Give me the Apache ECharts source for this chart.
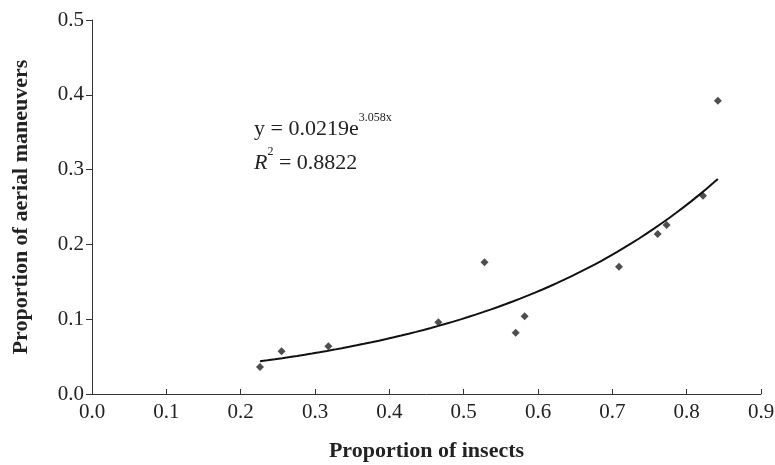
<!DOCTYPE html>
<html>
<head>
<meta charset="utf-8">
<script src="https://cdn.jsdelivr.net/npm/echarts@6/dist/echarts.min.js"></script>
</head>
<body style="margin:0">
<div id="main" style="width:775px;height:465px;"></div>
<script>
var insects = [0.226, 0.255, 0.318, 0.466, 0.528, 0.570, 0.582, 0.709, 0.761, 0.773, 0.822, 0.842];
var maneuvers = [0.036, 0.057, 0.064, 0.096, 0.176, 0.082, 0.104, 0.170, 0.214, 0.226, 0.265, 0.392];
var fitA = 0.0219, fitB = 3.058;

var points = insects.map(function (x, i) { return [x, maneuvers[i]]; });
var curve = [];
for (var x = 0.226; x <= 0.8425; x += 0.01) curve.push([x, fitA * Math.exp(fitB * x)]);
curve.push([0.842, fitA * Math.exp(fitB * 0.842)]);

var font = '"Liberation Serif", "DejaVu Serif", serif';
var chart = echarts.init(document.getElementById('main'));
chart.setOption({
    animation: false,
    textStyle: { fontFamily: font },
    grid: { left: 92, right: 14, top: 20, bottom: 71, outerBoundsMode: 'none', containLabel: false },
    xAxis: {
        type: 'value', min: 0, max: 0.9, interval: 0.1,
        name: 'Proportion of insects', nameLocation: 'middle', nameGap: 46,
        nameTextStyle: { fontFamily: font, fontWeight: 'bold', fontSize: 22, color: '#222' },
        axisLine: { onZero: false, lineStyle: { color: '#333' } },
        axisTick: { inside: true, length: 5, lineStyle: { color: '#333' } },
        axisLabel: { fontFamily: font, fontSize: 21, color: '#222', margin: 8, formatter: function (v) { return v.toFixed(1); } },
        splitLine: { show: false }
    },
    yAxis: {
        type: 'value', min: 0, max: 0.5, interval: 0.1,
        name: 'Proportion of aerial maneuvers', nameLocation: 'middle', nameGap: 60,
        nameTextStyle: { fontFamily: font, fontWeight: 'bold', fontSize: 22, color: '#222' },
        axisLine: { show: true, lineStyle: { color: '#333' } },
        axisTick: { show: true, inside: false, length: 6, lineStyle: { color: '#333' } },
        axisLabel: { fontFamily: font, fontSize: 21, color: '#222', formatter: function (v) { return v.toFixed(1); } },
        splitLine: { show: false }
    },
    graphic: [{
        type: 'text', left: 254, top: 112,
        style: {
            text: '{n|y = 0.0219e}{s|3.058x}\n{i|R}{s|2}{n| = 0.8822}',
            rich: {
                n: { fontFamily: font, fontSize: 22, fill: '#222', lineHeight: 34 },
                i: { fontFamily: font, fontSize: 22, fontStyle: 'italic', fill: '#222', lineHeight: 34 },
                s: { fontFamily: font, fontSize: 12, fill: '#222', verticalAlign: 'top', padding: [0, 0, 8, 0] }
            }
        }
    }],
    series: [
        { type: 'line', data: curve, showSymbol: false, smooth: false,
          lineStyle: { color: '#111', width: 2 } },
        { type: 'scatter', data: points, symbol: 'diamond', symbolSize: 8,
          itemStyle: { color: '#222' } }
    ]
});
</script>
</body>
</html>
